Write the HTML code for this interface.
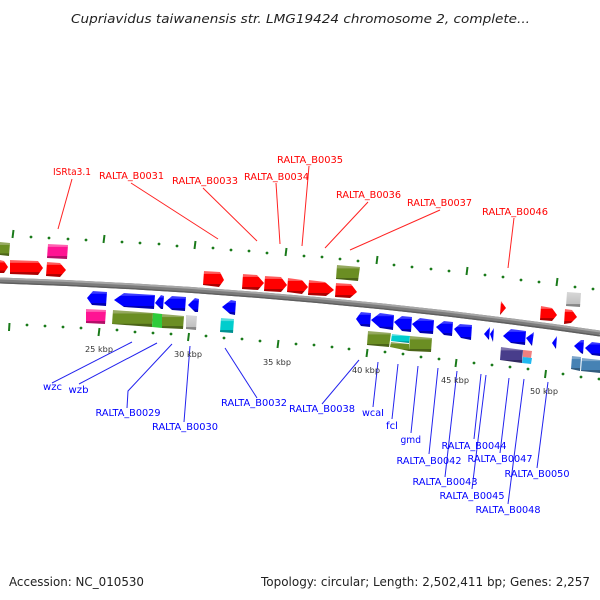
<!DOCTYPE html>
<html><head><meta charset="utf-8"><style>
html,body{margin:0;padding:0;background:#fff}
svg{display:block}
text{font-family:"DejaVu Sans",sans-serif}
.r text{fill:#f00;font-size:10px}
.b text{fill:#00f;font-size:10px}
.k text{fill:#333;font-size:8px}
.rl line,.rl polyline{stroke:#f22;stroke-width:1;fill:none}
.bl line,.bl polyline{stroke:#22e;stroke-width:1;fill:none}
.maj line{stroke:#1a7a1a;stroke-width:2}
.dot circle{fill:#1a7a1a;r:1.4px}
</style></head><body>
<svg width="600" height="600" viewBox="0 0 600 600" xmlns="http://www.w3.org/2000/svg">
<defs>
<linearGradient id="red" x1="0" y1="0" x2="0" y2="1"><stop offset="0" stop-color="#ff6a6a"/><stop offset=".18" stop-color="#ff5050"/><stop offset=".2" stop-color="#f00"/><stop offset=".8" stop-color="#f00"/><stop offset=".82" stop-color="#b00000"/><stop offset="1" stop-color="#a80000"/></linearGradient>
<linearGradient id="blue" x1="0" y1="0" x2="0" y2="1"><stop offset="0" stop-color="#4a4aff"/><stop offset=".18" stop-color="#3030ff"/><stop offset=".2" stop-color="#00f"/><stop offset=".8" stop-color="#00f"/><stop offset=".82" stop-color="#0000b4"/><stop offset="1" stop-color="#0000a8"/></linearGradient>
<linearGradient id="olive" x1="0" y1="0" x2="0" y2="1"><stop offset="0" stop-color="#9aae66"/><stop offset=".2" stop-color="#92a65c"/><stop offset=".22" stop-color="#6b8e23"/><stop offset=".8" stop-color="#6b8e23"/><stop offset=".82" stop-color="#4b6418"/><stop offset="1" stop-color="#4b6418"/></linearGradient>
<linearGradient id="pink" x1="0" y1="0" x2="0" y2="1"><stop offset="0" stop-color="#ff69b4"/><stop offset=".18" stop-color="#ff5cb0"/><stop offset=".2" stop-color="#ff1493"/><stop offset=".8" stop-color="#ff1493"/><stop offset=".82" stop-color="#b20e67"/><stop offset="1" stop-color="#b20e67"/></linearGradient>
<linearGradient id="gray" x1="0" y1="0" x2="0" y2="1"><stop offset="0" stop-color="#d8d8d8"/><stop offset=".8" stop-color="#c0c0c0"/><stop offset=".82" stop-color="#868686"/><stop offset="1" stop-color="#868686"/></linearGradient>
<linearGradient id="cyan" x1="0" y1="0" x2="0" y2="1"><stop offset="0" stop-color="#5fe0e0"/><stop offset=".2" stop-color="#4cdcdc"/><stop offset=".22" stop-color="#00cdcd"/><stop offset=".8" stop-color="#00cdcd"/><stop offset=".82" stop-color="#008f8f"/><stop offset="1" stop-color="#008f8f"/></linearGradient>
<linearGradient id="purple" x1="0" y1="0" x2="0" y2="1"><stop offset="0" stop-color="#8278b0"/><stop offset=".2" stop-color="#7a70a8"/><stop offset=".22" stop-color="#483d8b"/><stop offset=".8" stop-color="#483d8b"/><stop offset=".82" stop-color="#322a61"/><stop offset="1" stop-color="#322a61"/></linearGradient>
<linearGradient id="steel" x1="0" y1="0" x2="0" y2="1"><stop offset="0" stop-color="#80a8cc"/><stop offset=".2" stop-color="#7aa4c8"/><stop offset=".22" stop-color="#4682b4"/><stop offset=".8" stop-color="#4682b4"/><stop offset=".82" stop-color="#315b7d"/><stop offset="1" stop-color="#315b7d"/></linearGradient>
</defs>
<rect width="600" height="600" fill="#fff"/>

<text x="71" y="23" font-size="12.5" font-style="italic" fill="#222" textLength="459" lengthAdjust="spacingAndGlyphs">Cupriavidus taiwanensis str. LMG19424 chromosome 2, complete...</text>

<path d="M0,280.5 Q300,290 600,333.5" fill="none" stroke="#7c7c7c" stroke-width="6"/>
<path d="M0,278.5 Q300,288 600,331.5" fill="none" stroke="#a6a6a6" stroke-width="2"/>
<path d="M0,282.8 Q300,292.3 600,335.8" fill="none" stroke="#5e5e5e" stroke-width="1.4"/>

<g class="maj">
<line x1="13.5" y1="230" x2="12.5" y2="238"/><line x1="104.5" y1="235" x2="103.5" y2="243"/><line x1="195.5" y1="241" x2="194.5" y2="249"/><line x1="286.5" y1="248" x2="285.5" y2="256"/><line x1="377.5" y1="256" x2="376.5" y2="264"/><line x1="467.5" y1="267" x2="466.5" y2="275"/><line x1="557.5" y1="278" x2="556.5" y2="286"/>
<line x1="9.5" y1="323" x2="9" y2="331"/><line x1="99.5" y1="328" x2="98.5" y2="336"/><line x1="189" y1="333" x2="188" y2="341"/><line x1="278.5" y1="340" x2="277.5" y2="348"/><line x1="367.5" y1="349" x2="366.5" y2="357"/><line x1="456.5" y1="359" x2="455.5" y2="367"/><line x1="546" y1="370" x2="545" y2="378"/>
</g>
<g class="dot">
<circle cx="31" cy="237"/><circle cx="49" cy="238"/><circle cx="68" cy="239"/><circle cx="86" cy="240"/><circle cx="122" cy="242"/><circle cx="140" cy="243"/><circle cx="159" cy="244"/><circle cx="177" cy="246"/><circle cx="213" cy="248"/><circle cx="231" cy="250"/><circle cx="249" cy="251"/><circle cx="267" cy="253"/><circle cx="304" cy="256"/><circle cx="322" cy="257"/><circle cx="340" cy="259"/><circle cx="358" cy="261"/><circle cx="394" cy="265"/><circle cx="412" cy="267"/><circle cx="431" cy="269"/><circle cx="449" cy="271"/><circle cx="485" cy="275"/><circle cx="503" cy="277"/><circle cx="521" cy="280"/><circle cx="539" cy="282"/><circle cx="575" cy="287"/><circle cx="593" cy="289"/>
<circle cx="27" cy="325"/><circle cx="45" cy="326"/><circle cx="63" cy="327"/><circle cx="81" cy="328"/><circle cx="117" cy="330"/><circle cx="135" cy="332"/><circle cx="153" cy="333"/><circle cx="171" cy="334"/><circle cx="206" cy="336"/><circle cx="224" cy="338"/><circle cx="242" cy="339"/><circle cx="260" cy="341"/><circle cx="296" cy="344"/><circle cx="314" cy="345"/><circle cx="332" cy="347"/><circle cx="349" cy="349"/><circle cx="385" cy="352"/><circle cx="403" cy="354"/><circle cx="421" cy="357"/><circle cx="439" cy="359"/><circle cx="474" cy="363"/><circle cx="492" cy="365"/><circle cx="510" cy="367"/><circle cx="528" cy="369"/><circle cx="563" cy="374"/><circle cx="581" cy="377"/><circle cx="599" cy="379"/>
</g>

<!-- forward genes -->
<g fill="url(#red)">
<polygon points="0,260 4,261 8,267 4,273 0,273"/>
<polygon points="10,260 38,261 43,268 38,275 10,274"/>
<polygon points="47,262 60,263 66,270 60,277 46,276"/>
<polygon points="204,271 220,272 224,280 219,287 203,285"/>
<polygon points="243,274 257,275 264,283 258,290 242,289"/>
<polygon points="265,276 281,277 287,285 281,292 264,291"/>
<polygon points="288,278 302,280 308,287 302,294 287,292"/>
<polygon points="309,280 325,282 334,290 326,296 308,295"/>
<polygon points="336,283 351,284 357,292 350,298 335,297"/>
<polygon points="501,301 506,308 500,315"/>
<polygon points="541,306 552,308 557,315 552,321 540,320"/>
<polygon points="565,309 572,310 577,317 571,323 564,324"/>
</g>
<polygon points="0,242 10,243 9,256 0,255" fill="url(#olive)"/>
<polygon points="48,244 68,245 67,259 47,258" fill="url(#pink)"/>
<polygon points="337,265 360,267 358,281 336,279" fill="url(#olive)"/>
<polygon points="567,292 581,293 580,307 566,306" fill="url(#gray)"/>

<!-- reverse genes -->
<g fill="url(#blue)">
<polygon points="87,298 93,291 107,292 106,306 92,305"/>
<polygon points="114,300 124,293 155,295 154,309 124,307"/>
<polygon points="155,303 161,295 164,296 163,309 161,309"/>
<polygon points="164,303 172,296 186,297 185,311 172,310"/>
<polygon points="188,305 195,298 199,299 198,312 195,312"/>
<polygon points="222,307 231,300 236,301 235,315 230,314"/>
<polygon points="356,319 361,312 371,313 370,327 361,326"/>
<polygon points="371,320 380,313 394,315 393,330 380,328"/>
<polygon points="394,322 402,316 412,317 411,332 402,331"/>
<polygon points="412,324 420,318 434,320 433,334 420,333"/>
<polygon points="436,327 444,321 453,322 452,336 444,335"/>
<polygon points="454,329 460,324 472,325 471,340 461,338"/>
<polygon points="484,334 490,327 489,340"/>
<polygon points="490,334 494,328 493,342"/>
<polygon points="503,336 511,329 526,331 525,345 511,343"/>
<polygon points="526,338 534,332 532,346"/>
<polygon points="552,343 557,336 556,349"/>
<polygon points="574,346 581,340 584,340 583,354 581,353"/>
<polygon points="585,348 592,342 600,343 600,356 592,355"/>
</g>
<polygon points="86,309 106,310 105,324 86,323" fill="url(#pink)"/>
<polygon points="113,310 153,313 152,327 112,324" fill="url(#olive)"/>
<polygon points="153,313 162,314 162,328 152,327" fill="#2ecc3a"/>
<polygon points="162,314 184,316 183,329 162,328" fill="url(#olive)"/>
<polygon points="186,315 197,316 196,330 186,329" fill="url(#gray)"/>
<polygon points="221,318 234,319 233,333 220,332" fill="url(#cyan)"/>
<polygon points="368,331 391,333 389,347 367,345" fill="url(#olive)"/>
<polygon points="392,334 410,336 409,343 391,341" fill="url(#cyan)"/>
<polygon points="391,342 409,344 409,351 390,347" fill="url(#olive)"/>
<polygon points="410,336 432,338 431,352 409,351" fill="url(#olive)"/>
<polygon points="501,347 523,350 522,363 500,360" fill="url(#purple)"/>
<polygon points="523,350 532,351 531,358 523,357" fill="#f08080"/>
<polygon points="523,357 532,358 531,364 522,363" fill="#1fb8f0"/>
<polygon points="572,356 581,357 580,371 571,369" fill="url(#steel)"/>
<polygon points="582,358 600,360 600,373 581,371" fill="url(#steel)"/>

<!-- connectors -->
<g class="rl">
<line x1="72" y1="179" x2="58" y2="229"/>
<line x1="131" y1="183" x2="218" y2="239"/>
<line x1="203" y1="188" x2="257" y2="241"/>
<line x1="276" y1="183" x2="280" y2="244"/>
<line x1="309" y1="166" x2="302" y2="246"/>
<line x1="368" y1="202" x2="325" y2="248"/>
<line x1="440" y1="210" x2="350" y2="250"/>
<line x1="514" y1="218" x2="508" y2="268"/>
</g>
<g class="bl">
<line x1="132" y1="342" x2="52" y2="383"/>
<line x1="157" y1="343" x2="79" y2="384"/>
<polyline points="172,344 128,391 127,408"/>
<line x1="190" y1="346" x2="184" y2="422"/>
<line x1="225" y1="348" x2="257" y2="398"/>
<line x1="359" y1="360" x2="322" y2="404"/>
<line x1="378" y1="362" x2="373" y2="407"/>
<line x1="398" y1="364" x2="392" y2="419"/>
<line x1="418" y1="366" x2="411" y2="433"/>
<line x1="438" y1="368" x2="429" y2="454"/>
<line x1="457" y1="371" x2="445" y2="477"/>
<line x1="481" y1="374" x2="474" y2="439"/>
<line x1="486" y1="375" x2="472" y2="489"/>
<line x1="509" y1="378" x2="500" y2="453"/>
<line x1="524" y1="379" x2="508" y2="504"/>
<line x1="548" y1="382" x2="537" y2="468"/>
</g>

<!-- labels -->
<g class="r">
<text x="53" y="175" textLength="38" lengthAdjust="spacingAndGlyphs">ISRta3.1</text>
<text x="99" y="179" textLength="65" lengthAdjust="spacingAndGlyphs">RALTA_B0031</text>
<text x="172" y="184" textLength="66" lengthAdjust="spacingAndGlyphs">RALTA_B0033</text>
<text x="244" y="180" textLength="65" lengthAdjust="spacingAndGlyphs">RALTA_B0034</text>
<text x="277" y="163" textLength="66" lengthAdjust="spacingAndGlyphs">RALTA_B0035</text>
<text x="336" y="198" textLength="65" lengthAdjust="spacingAndGlyphs">RALTA_B0036</text>
<text x="407" y="206" textLength="65" lengthAdjust="spacingAndGlyphs">RALTA_B0037</text>
<text x="482" y="215" textLength="66" lengthAdjust="spacingAndGlyphs">RALTA_B0046</text>
</g>
<g class="b">
<text x="43" y="390" textLength="19" lengthAdjust="spacingAndGlyphs">wzc</text>
<text x="68.5" y="393" textLength="20" lengthAdjust="spacingAndGlyphs">wzb</text>
<text x="95.5" y="416" textLength="65" lengthAdjust="spacingAndGlyphs">RALTA_B0029</text>
<text x="152" y="430" textLength="66" lengthAdjust="spacingAndGlyphs">RALTA_B0030</text>
<text x="221" y="406" textLength="66" lengthAdjust="spacingAndGlyphs">RALTA_B0032</text>
<text x="289" y="412" textLength="66" lengthAdjust="spacingAndGlyphs">RALTA_B0038</text>
<text x="362" y="416" textLength="22" lengthAdjust="spacingAndGlyphs">wcaI</text>
<text x="386" y="429" textLength="12" lengthAdjust="spacingAndGlyphs">fcl</text>
<text x="400.5" y="443" textLength="20.5" lengthAdjust="spacingAndGlyphs">gmd</text>
<text x="396.5" y="464" textLength="65" lengthAdjust="spacingAndGlyphs">RALTA_B0042</text>
<text x="412.5" y="485" textLength="65" lengthAdjust="spacingAndGlyphs">RALTA_B0043</text>
<text x="441.5" y="449" textLength="65" lengthAdjust="spacingAndGlyphs">RALTA_B0044</text>
<text x="439.5" y="499" textLength="65" lengthAdjust="spacingAndGlyphs">RALTA_B0045</text>
<text x="467.5" y="462" textLength="65" lengthAdjust="spacingAndGlyphs">RALTA_B0047</text>
<text x="475.5" y="513" textLength="65" lengthAdjust="spacingAndGlyphs">RALTA_B0048</text>
<text x="504.5" y="477" textLength="65" lengthAdjust="spacingAndGlyphs">RALTA_B0050</text>
</g>
<g class="k">
<text x="85" y="352" textLength="28" lengthAdjust="spacingAndGlyphs">25 kbp</text>
<text x="174" y="357" textLength="28" lengthAdjust="spacingAndGlyphs">30 kbp</text>
<text x="263" y="365" textLength="28" lengthAdjust="spacingAndGlyphs">35 kbp</text>
<text x="352" y="373" textLength="28" lengthAdjust="spacingAndGlyphs">40 kbp</text>
<text x="441" y="383" textLength="28" lengthAdjust="spacingAndGlyphs">45 kbp</text>
<text x="530" y="394" textLength="28" lengthAdjust="spacingAndGlyphs">50 kbp</text>
</g>

<text x="9" y="586" font-size="12" fill="#222" textLength="135" lengthAdjust="spacingAndGlyphs">Accession: NC_010530</text>
<text x="261" y="586" font-size="12" fill="#222" textLength="329" lengthAdjust="spacingAndGlyphs">Topology: circular; Length: 2,502,411 bp; Genes: 2,257</text>
</svg>
</body></html>
